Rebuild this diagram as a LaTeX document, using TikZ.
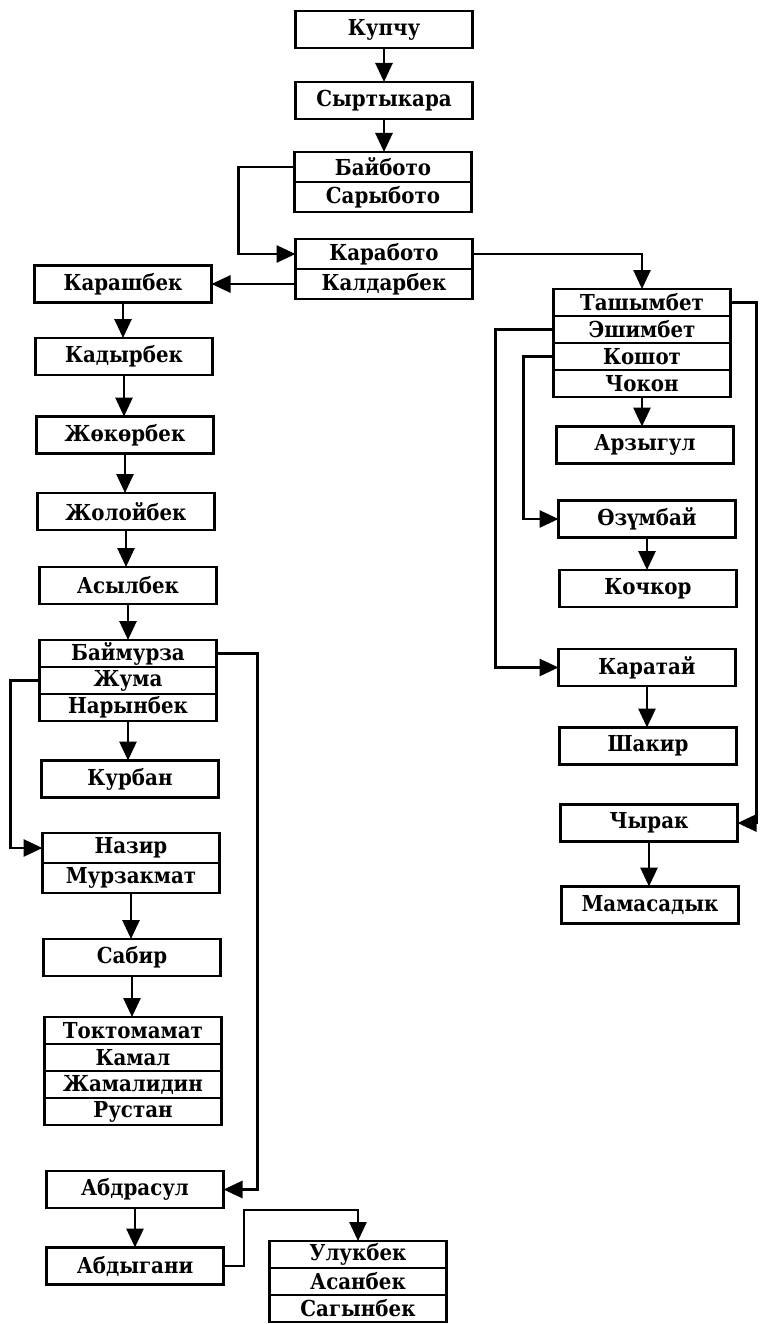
\documentclass[tikz,border=0pt]{standalone}
\usepackage{fontspec}
\setmainfont{DejaVu Serif Condensed}
\usetikzlibrary{positioning, arrows.meta}
\tikzset{box/.style={draw,line width=2.3pt,outer sep=0pt,minimum width=177pt,minimum height=37pt,inner sep=0pt,font=\fontsize{22}{24}\selectfont\bfseries},
         row/.style={box,minimum height=27pt},
         pair/.style={box,minimum height=30pt},
         arr/.style={line width=2.8pt,-{Triangle[length=19pt,width=17pt]}},
        }

\begin{document}
\begin{tikzpicture}[x=1pt,y=-1pt]
        \useasboundingbox(0,0)rectangle(763,1324);
        \node[box](kupchu)at(384,29.5){Купчу};
        \node[box](syrtkara)at(384,100.5){Сыртыкара};
        \node[pair](baiboto)at(383,167){Байбото};
        \node[pair,below=0pt of baiboto](sarboto){Сарыбото};
        \node[pair](karaboto)at(384,254){Каработо};
        \node[pair,below=0pt of karaboto](kaldar){Калдарбек};
        \node[box](karash)at(123,284){Карашбек};
        \node[box](kadyr)at(124,356.5){Кадырбек};
        \node[box](zhoker)at(125,435){Жөкөрбек};
        \node[box](zholoi)at(126,511.5){Жолойбек};
        \node[box](asyl)at(128,585.5){Асылбек};
        \node[row](baimurza)at(128,653.5){Баймурза};
        \node[row,below=0pt of baimurza](zhuma){Жума};
        \node[row,below=0pt of zhuma](naryn){Нарынбек};
        \node[box](kurban)at(130,779){Курбан};
        \node[pair](nazir)at(131,848){Назир};
        \node[pair,below=0pt of nazir](murzak){Мурзакмат};
        \node[box](sabir)at(132,957.5){Сабир};
        \node[row](tokto)at(133,1030.5){Токтомамат};
        \node[row,below=0pt of tokto](kamal){Камал};
        \node[row,below=0pt of kamal](zhamal){Жамалидин};
        \node[row,below=0pt of zhamal](rustan){Рустан};
        \node[box](abdras)at(135,1189.5){Абдрасул};
        \node[box](abdyg)at(135,1266){Абдыгани};
        \node[row](uluk)at(358,1254.5){Улукбек};
        \node[row,below=0pt of uluk](asan){Асанбек};
        \node[row,below=0pt of asan](sagyn){Сагынбек};
        \node[row](tash)at(642,302.5){Ташымбет};
        \node[row,below=0pt of tash](eshim){Эшимбет};
        \node[row,below=0pt of eshim](koshot){Кошот};
        \node[row,below=0pt of koshot](chokon){Чокон};
        \node[box](arzy)at(645,445){Арзыгул};
        \node[box](ozum)at(647,519){Өзүмбай};
        \node[box](kochkor)at(648,588.5){Кочкор};
        \node[box](karatai)at(647,667.5){Каратай};
        \node[box](shakir)at(648,746){Шакир};
        \node[box](chyrak)at(649,823){Чырак};
        \node[box](mamas)at(650,905){Мамасадык};
        \coordinate(bend)at(244,1210);
        \foreach \a/\b in {kupchu/syrtkara,syrtkara/baiboto,karash/kadyr,kadyr/zhoker,zhoker/zholoi,zholoi/asyl,asyl/baimurza,naryn/kurban,murzak/sabir,sabir/tokto,abdras/abdyg,chokon/arzy,ozum/kochkor,karatai/shakir,chyrak/mamas}
            \draw[arr](\a.south)--(\a.south|-\b.north);
        \draw[arr](baiboto.west)--++(-56,0)|-(karaboto.west);
        \draw[arr](karaboto.east)-|(tash.north);
        \draw[arr](kaldar.west)--(karash.east);
        \draw[arr](baimurza.east)--++(41,0)|-(abdras.east);
        \draw[arr](zhuma.west)--++(-29,0)|-(nazir.west);
        \draw[arr](abdyg.east)-|(bend)-|(uluk.north);
        \draw[arr](tash.east)--++(26,0)|-(chyrak.east);
        \draw[arr](eshim.west)--++(-58,0)|-(karatai.west);
        \draw[arr](koshot.west)--++(-30,0)|-(ozum.west);
    \end{tikzpicture}
\end{document}
